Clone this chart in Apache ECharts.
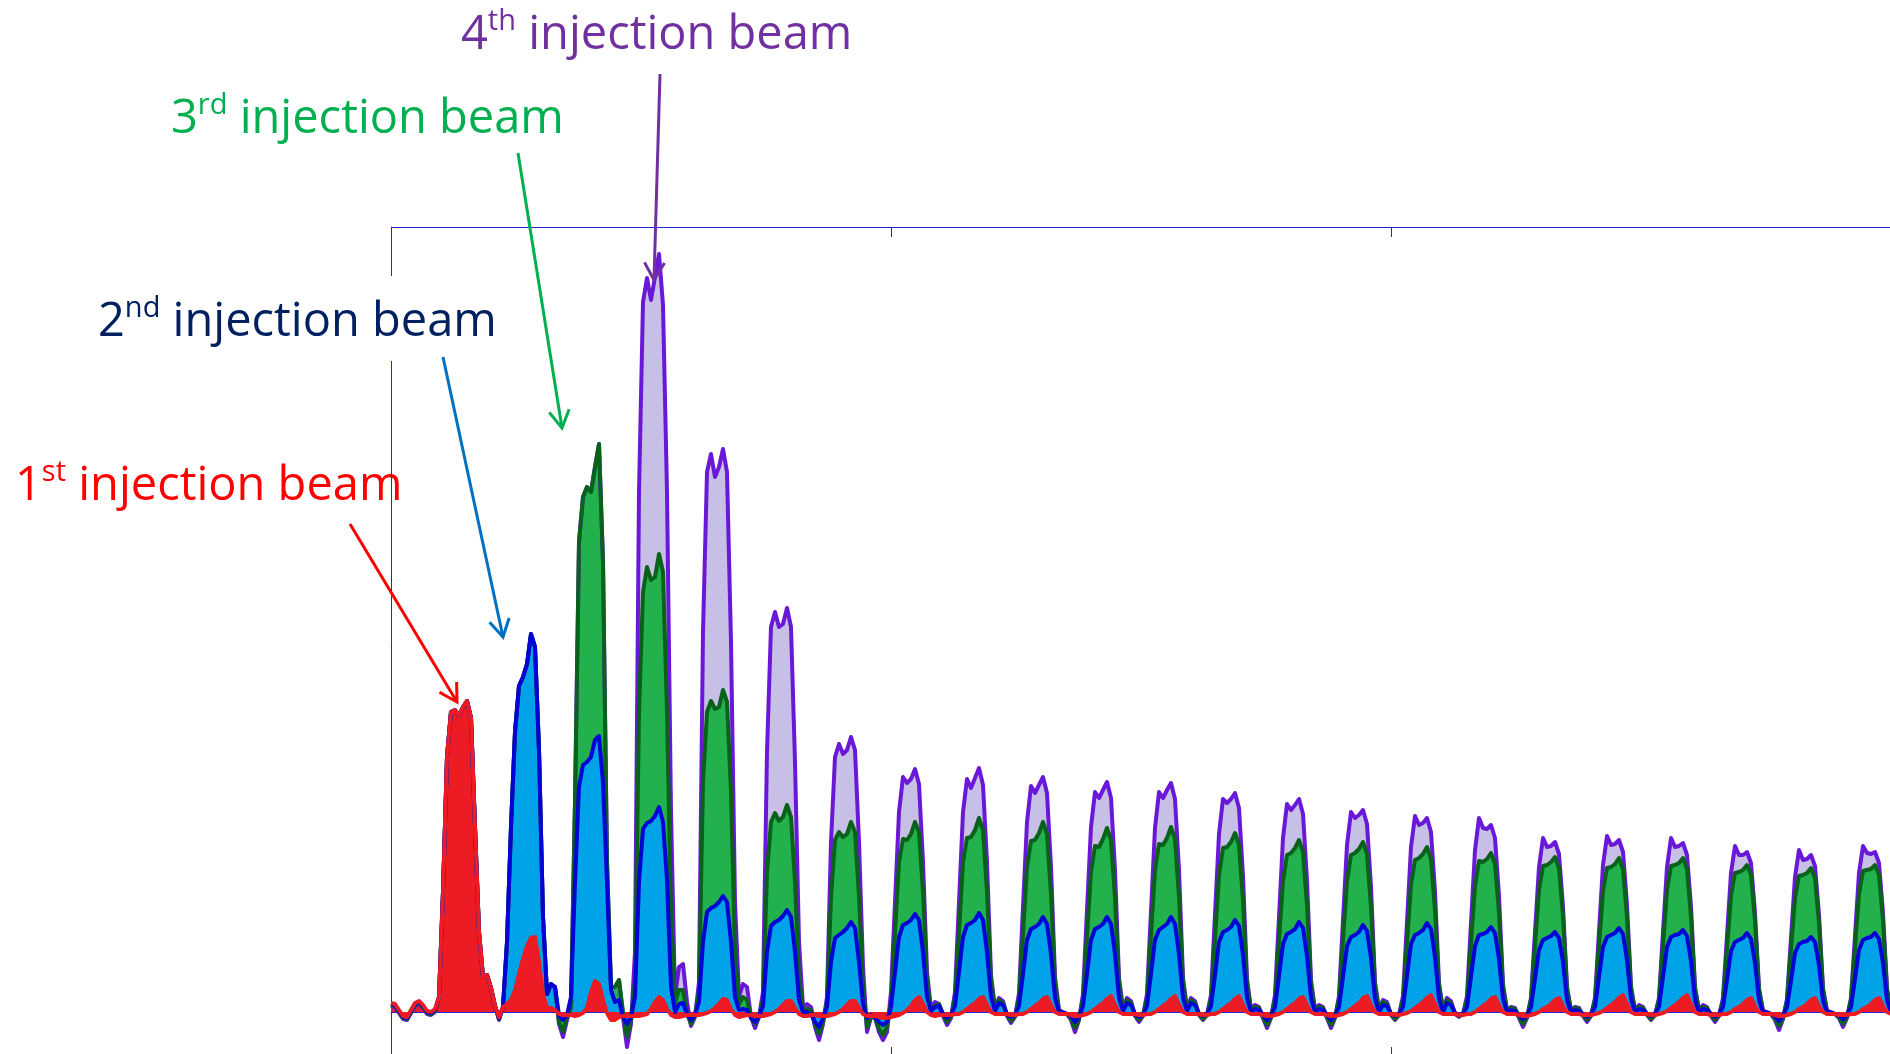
<!DOCTYPE html>
<html>
<head>
<meta charset="utf-8">
<title>Injection beam bunch signals</title>
<script src="https://cdn.jsdelivr.net/npm/echarts@6/dist/echarts.min.js"></script>
<style>
  html, body { margin: 0; padding: 0; background: #ffffff; }
  #chart { width: 1890px; height: 1054px; }
</style>
</head>
<body>
<div id="chart"></div>
<script>
// Pickup signal after each injection, sampled every 4 time units (16 samples per bucket).
// One row per bucket; the first row is the pre-trigger stretch.

const beam4 = [
  6, 5, -1, -7, -8, -1, 6, 8, 4, -2, -3, 0,
  15, 120, 255, 300, 302, 296, 305, 311, 294, 185, 80, 35, 37, 24, 6, -8,
  5, 70, 185, 280, 326, 335, 348, 378, 365, 262, 95, 18, 28, 25, -12, -25,
  -8, 5, 210, 470, 515, 525, 520, 545, 568, 450, 150, 25, 25, 32, -5, -35,
  -12, 60, 520, 710, 734, 712, 735, 758, 707, 520, 200, 15, 45, 48, 10, -14,
  -5, 30, 380, 540, 558, 535, 545, 563, 540, 370, 110, 15, 28, 25, -5, -16,
  -5, 20, 260, 385, 400, 385, 388, 404, 385, 250, 70, 5, 8, 5, -15, -28,
  -12, 15, 170, 255, 268, 258, 262, 275, 262, 170, 45, -20, -5, -6, -20, -28,
  -20, 20, 110, 200, 235, 229, 233, 243, 228, 150, 40, 3, 10, 8, -4, -13,
  -6, 20, 110, 200, 233, 224, 234, 244, 227, 150, 37, 4, 14, 11, -4, -11,
  -5, 19, 105, 190, 226, 219, 227, 235, 219, 145, 35, 2, 0, -2, -8, -20,
  -8, 18, 102, 185, 220, 214, 222, 230, 214, 142, 34, 4, 14, 11, -4, -10,
  -4, 18, 101, 184, 220, 214, 222, 229, 213, 142, 34, 4, 14, 11, -3, -8,
  -3, 17, 98, 178, 213, 209, 213, 219, 204, 136, 33, 3, 7, 5, -6, -16,
  -6, 17, 95, 174, 208, 202, 207, 213, 198, 132, 32, 3, 7, 5, -6, -16,
  -6, 16, 92, 167, 200, 194, 197, 202, 188, 125, 30, 3, 12, 10, -3, -8,
  -3, 16, 90, 165, 196, 187, 189, 194, 180, 120, 29, 3, 14, 11, -2, -5,
  -2, 16, 89, 162, 194, 184, 183, 187, 174, 116, 28, 2, 5, 4, -6, -15,
  -6, 14, 80, 145, 174, 165, 166, 170, 158, 105, 25, 2, 5, 4, -4, -10,
  -4, 14, 81, 147, 176, 167, 168, 172, 160, 107, 26, 2, 7, 5, -3, -8,
  -3, 14, 80, 145, 174, 165, 166, 169, 157, 105, 25, 2, 7, 5, -4, -10,
  -4, 14, 76, 139, 166, 157, 157, 160, 149, 99, 24, 1, 0, -2, -8, -18,
  -7, 13, 74, 135, 162, 152, 153, 157, 146, 97, 24, 1, 0, -2, -6, -15,
  -6, 14, 76, 139, 166, 159, 158, 160, 149, 99, 24, 1
];

const beam3 = [
  7, 6, 0, -6, -7, 0, 7, 9, 5, -1, -2, 1,
  15, 120, 255, 300, 302, 296, 305, 311, 294, 185, 80, 35, 37, 24, 6, -7,
  5, 70, 185, 280, 326, 335, 348, 378, 365, 262, 95, 18, 28, 25, -10, -20,
  -5, 5, 210, 470, 515, 525, 520, 545, 568, 450, 150, 25, 25, 32, 0, -25,
  -8, 30, 300, 420, 445, 432, 435, 458, 440, 300, 100, 10, 22, 22, -2, -12,
  -3, 20, 230, 300, 311, 303, 305, 322, 310, 220, 60, 8, 15, 12, -5, -12,
  -5, 12, 140, 190, 199, 191, 195, 207, 195, 130, 35, 2, 3, 2, -12, -22,
  -10, 10, 115, 172, 180, 175, 178, 190, 180, 115, 25, -15, -4, -5, -17, -23,
  -15, 10, 80, 150, 173, 172, 178, 190, 180, 120, 30, 2, 6, 8, -2, -10,
  -5, 15, 80, 150, 174, 175, 182, 194, 182, 120, 30, 3, 12, 9, -3, -9,
  -4, 14, 78, 145, 171, 172, 179, 190, 178, 118, 28, 1, -1, -2, -6, -16,
  -7, 14, 76, 140, 166, 165, 173, 184, 172, 114, 27, 3, 12, 9, -3, -8,
  -3, 14, 77, 142, 168, 167, 174, 185, 173, 115, 28, 3, 12, 9, -2, -7,
  -3, 13, 74, 137, 164, 165, 170, 179, 167, 111, 27, 2, 5, 4, -5, -13,
  -5, 13, 72, 131, 157, 159, 164, 172, 160, 107, 26, 2, 5, 4, -5, -13,
  -5, 13, 72, 131, 157, 159, 163, 170, 158, 105, 26, 2, 10, 8, -2, -7,
  -3, 12, 70, 127, 152, 154, 158, 165, 153, 102, 25, 2, 12, 9, -1, -4,
  -2, 12, 69, 126, 151, 150, 153, 159, 148, 99, 24, 2, 4, 3, -5, -12,
  -5, 12, 67, 122, 146, 147, 150, 155, 144, 96, 23, 2, 4, 3, -3, -8,
  -3, 12, 66, 121, 144, 145, 148, 154, 143, 95, 23, 2, 5, 4, -2, -7,
  -3, 12, 67, 122, 146, 147, 149, 154, 143, 95, 23, 2, 5, 4, -3, -8,
  -3, 11, 64, 116, 139, 140, 142, 147, 137, 91, 22, 1, -1, -2, -6, -14,
  -6, 11, 63, 114, 136, 137, 139, 144, 134, 89, 22, 1, -1, -2, -5, -12,
  -5, 12, 65, 118, 141, 142, 143, 147, 137, 91, 22, 1
];

const beam2 = [
  8, 7, 1, -5, -6, 1, 8, 10, 6, 0, -1, 2,
  15, 120, 255, 300, 302, 296, 305, 311, 294, 185, 80, 35, 37, 24, 6, -6,
  5, 70, 185, 280, 326, 335, 348, 378, 365, 262, 95, 18, 28, 25, -3, -8,
  -3, 15, 130, 225, 247, 250, 255, 272, 276, 229, 129, 22, 10, 12, -5, -12,
  -5, 15, 130, 183, 189, 191, 196, 205, 190, 132, 25, 0, 8, 9, -2, -8,
  -3, 10, 70, 100, 104, 106, 110, 116, 110, 70, 15, 2, 3, 2, -6, -10,
  -4, 6, 60, 86, 90, 92, 96, 102, 95, 60, 12, 0, 0, -2, -10, -15,
  -6, 5, 50, 74, 77, 80, 84, 90, 84, 50, 8, -6, -3, -5, -10, -13,
  -10, 5, 40, 75, 87, 89, 92, 98, 92, 60, 15, 1, 5, 6, -2, -6,
  -3, 6, 40, 75, 87, 89, 92, 99, 92, 60, 15, 1, 9, 7, -2, -5,
  -3, 6, 38, 72, 83, 85, 88, 95, 88, 58, 14, 0, -1, -2, -4, -10,
  -5, 6, 38, 72, 83, 85, 88, 95, 88, 58, 14, 1, 9, 7, -2, -5,
  -3, 6, 38, 72, 82, 85, 88, 95, 88, 58, 14, 1, 9, 7, -2, -4,
  -2, 6, 37, 70, 80, 82, 85, 92, 86, 57, 14, 0, 3, 2, -3, -8,
  -4, 5, 36, 68, 78, 80, 83, 90, 84, 56, 14, 0, 3, 2, -3, -8,
  -4, 5, 35, 66, 75, 77, 80, 87, 81, 54, 13, 0, 7, 6, -2, -4,
  -2, 5, 36, 68, 77, 79, 82, 89, 83, 55, 13, 0, 9, 7, -1, -3,
  -2, 5, 35, 66, 77, 78, 80, 85, 79, 53, 13, 0, 2, 1, -3, -7,
  -4, 5, 33, 62, 72, 74, 76, 80, 74, 50, 12, 0, 2, 1, -2, -5,
  -2, 5, 35, 65, 75, 77, 79, 84, 78, 52, 13, 0, 3, 2, -2, -4,
  -2, 5, 35, 65, 75, 77, 78, 82, 76, 51, 12, 0, 3, 2, -2, -5,
  -2, 5, 32, 61, 70, 72, 74, 79, 73, 49, 12, 0, -1, -2, -4, -9,
  -4, 5, 31, 59, 68, 70, 71, 75, 70, 47, 11, 0, -1, -2, -3, -7,
  -3, 5, 33, 62, 72, 74, 75, 79, 73, 49, 12, 0
];

const beam1 = [
  9, 8, 2, -4, -5, 2, 9, 11, 7, 1, 0, 3,
  15, 120, 255, 300, 302, 296, 305, 311, 294, 185, 80, 35, 37, 24, 6, -5,
  5, 8, 12, 22, 38, 53, 66, 74, 75, 50, 18, 4, 4, 2, -2, -3,
  -3, -3, -4, -3, -1, 4, 20, 31, 28, 12, -1, -8, -8, -5, -4, -4,
  -4, -4, -4, -3, -2, 3, 10, 15, 12, 3, -3, -5, -5, -4, -3, -3,
  -3, -3, -2, -1, 1, 4, 8, 13, 12, 3, -3, -5, -4, -3, -3, -4,
  -4, -4, -3, -2, 0, 3, 7, 11, 11, 4, -2, -4, -4, -3, -3, -4,
  -4, -4, -3, -2, 0, 3, 7, 11, 11, 4, -2, -4, -4, -4, -5, -6,
  -6, -5, -4, -3, -1, 2, 6, 12, 15, 8, 0, -3, -4, -3, -3, -3,
  -3, -2, -2, 0, 3, 6, 9, 13, 15, 7, 0, -2, -2, -2, -2, -3,
  -3, -2, -2, 0, 3, 6, 9, 13, 15, 7, 0, -2, -2, -2, -3, -4,
  -4, -3, -2, 0, 3, 6, 9, 13, 16, 7, 0, -2, -2, -2, -2, -3,
  -3, -2, -2, 0, 3, 6, 9, 13, 16, 7, 0, -2, -2, -2, -2, -3,
  -3, -2, -2, 0, 3, 6, 9, 13, 16, 7, 0, -2, -2, -2, -3, -4,
  -4, -3, -2, 0, 3, 6, 9, 13, 15, 7, 0, -2, -2, -2, -3, -4,
  -4, -3, -2, 0, 3, 6, 9, 14, 16, 7, 0, -2, -2, -2, -2, -3,
  -3, -2, -1, 1, 4, 7, 10, 14, 17, 8, 0, -2, -2, -2, -2, -3,
  -3, -2, -2, 0, 3, 6, 9, 13, 15, 7, 0, -2, -2, -2, -3, -4,
  -4, -3, -2, 0, 3, 5, 8, 12, 14, 6, 0, -2, -2, -2, -3, -3,
  -3, -2, -1, 1, 4, 7, 10, 14, 17, 8, 0, -2, -2, -2, -2, -3,
  -3, -2, -1, 1, 4, 7, 10, 14, 17, 8, 0, -2, -2, -2, -3, -3,
  -3, -2, -2, 0, 3, 5, 8, 12, 14, 6, 0, -2, -2, -2, -3, -4,
  -4, -3, -2, 0, 3, 5, 8, 12, 14, 6, 0, -2, -2, -2, -3, -3,
  -3, -2, -2, 0, 3, 5, 8, 12, 14, 6, 0, -2
];

// Annotation texts: ordinal number, its suffix, and the rest of the label
const labelParts = [
  ['1', 'st', ' injection beam'],
  ['2', 'nd', ' injection beam'],
  ['3', 'rd', ' injection beam'],
  ['4', 'th', ' injection beam']
];

// Time axis: 4 units per sample, frame spans 1600 units, ticks every 500
const SAMPLE_STEP = 4;
const FRAME_SPAN = 1600;
const frameTicks = [500, 1000, 1500];
const sampleTimes = [];
for (let t = 0; t <= FRAME_SPAN; t += SAMPLE_STEP) sampleTimes.push(String(t));

const AXIS_BLUE = '#2323DF';
const FONT = '"Open Sans", "Noto Sans", sans-serif';

const styles = {
  beam4: { line: '#6A18D8', fill: '#C8BFE7', width: 4 },
  beam3: { line: '#08621A', fill: '#22B14C', width: 4 },
  beam2: { line: '#0303D6', fill: '#00A2E8', width: 4 },
  beam1: { line: '#ED1C24', fill: '#ED1C24', width: 4 }
};

function trace(name, data, st) {
  return {
    name: name,
    type: 'line',
    data: data,
    xAxisIndex: 0,
    yAxisIndex: 0,
    symbol: 'none',
    smooth: false,
    lineStyle: { color: st.line, width: st.width, join: 'round' },
    areaStyle: { color: st.fill, opacity: 1 },
    itemStyle: { color: st.line },
    silent: true
  };
}

function label(x, y, parts, color, z) {
  return {
    type: 'text',
    x: x, y: y, z: z,
    silent: true,
    style: {
      text: '{n|' + parts[0] + '}{s|' + parts[1] + '}{n|' + parts[2] + '}',
      fill: color,
      align: 'left',
      verticalAlign: 'top',
      rich: {
        n: { fontFamily: FONT, fontSize: 47, lineHeight: 58, fill: color },
        s: { fontFamily: FONT, fontSize: 29, lineHeight: 48, verticalAlign: 'top', fill: color }
      }
    }
  };
}

function arrow(x1, y1, x2, y2, color) {
  const a = Math.atan2(y2 - y1, x2 - x1);
  const len = 20, spread = Math.PI / 6;
  return [
    { type: 'line', z: 100, silent: true,
      shape: { x1: x1, y1: y1, x2: x2, y2: y2 },
      style: { stroke: color, lineWidth: 3 } },
    { type: 'polyline', z: 100, silent: true,
      shape: { points: [
        [x2 - len * Math.cos(a - spread), y2 - len * Math.sin(a - spread)],
        [x2, y2],
        [x2 - len * Math.cos(a + spread), y2 - len * Math.sin(a + spread)]
      ] },
      style: { stroke: color, lineWidth: 3, fill: null } }
  ];
}

const GRID = { left: 391, top: 227, width: FRAME_SPAN, height: 830 };

const chart = echarts.init(document.getElementById('chart'), null, { renderer: 'canvas' });

chart.setOption({
  animation: false,
  backgroundColor: '#ffffff',
  grid: Object.assign({ outerBoundsMode: 'none', containLabel: false }, GRID),
  xAxis: [
    // sample axis; its line is the zero baseline of the areas
    { type: 'category', data: sampleTimes, boundaryGap: false, position: 'bottom',
      axisLine: { show: true, onZero: true, lineStyle: { color: AXIS_BLUE, width: 1 } },
      axisTick: { show: false }, axisLabel: { show: false }, splitLine: { show: false } },
    // frame time scale along the bottom edge
    { type: 'value', position: 'bottom', min: 0, max: FRAME_SPAN,
      axisLine: { show: true, onZero: false, lineStyle: { color: AXIS_BLUE, width: 1 } },
      axisTick: { show: false }, axisLabel: { show: false }, splitLine: { show: false } }
  ],
  yAxis: {
    type: 'value',
    min: -45,
    max: 785,
    axisLine: { show: true, onZero: false, lineStyle: { color: AXIS_BLUE, width: 1 } },
    axisTick: { show: false },
    axisLabel: { show: false },
    splitLine: { show: false }
  },
  series: [
    trace('4th injection', beam4, styles.beam4),
    trace('3rd injection', beam3, styles.beam3),
    trace('2nd injection', beam2, styles.beam2),
    trace('1st injection', beam1, styles.beam1)
  ]
});

// Top frame edge and inward tick marks, placed through the frame time scale
const frameEls = [];
const gTop = GRID.top, gBottom = GRID.top + GRID.height;
frameEls.push({ type: 'line', z: 50, silent: true,
  shape: { x1: GRID.left, y1: gTop + 0.5, x2: GRID.left + GRID.width, y2: gTop + 0.5 },
  style: { stroke: AXIS_BLUE, lineWidth: 1 } });
frameTicks.forEach(function (v) {
  const px = Math.round(chart.convertToPixel({ xAxisIndex: 1 }, v)) + 0.5;
  frameEls.push({ type: 'line', z: 50, silent: true,
    shape: { x1: px, y1: gTop, x2: px, y2: gTop + 10 },
    style: { stroke: AXIS_BLUE, lineWidth: 1 } });
  frameEls.push({ type: 'line', z: 50, silent: true,
    shape: { x1: px, y1: gBottom, x2: px, y2: gBottom - 10 },
    style: { stroke: AXIS_BLUE, lineWidth: 1 } });
});

chart.setOption({
  graphic: [].concat(
    [
      { type: 'rect', z: 5, silent: true,
        shape: { x: 95, y: 276, width: 410, height: 85 },
        style: { fill: '#ffffff' } },
      label(15, 458, labelParts[0], '#FF0000', -1),
      label(98, 294, labelParts[1], '#002060', 6),
      label(171, 91, labelParts[2], '#00B050', 6),
      label(461, 7, labelParts[3], '#7030A0', 6)
    ],
    frameEls,
    arrow(350, 524, 457, 702, '#FF0000'),
    arrow(443, 357, 503, 637, '#0070C0'),
    arrow(518, 153, 562, 428, '#00B050'),
    arrow(660, 74, 654, 280, '#7030A0')
  )
});
</script>
</body>
</html>
